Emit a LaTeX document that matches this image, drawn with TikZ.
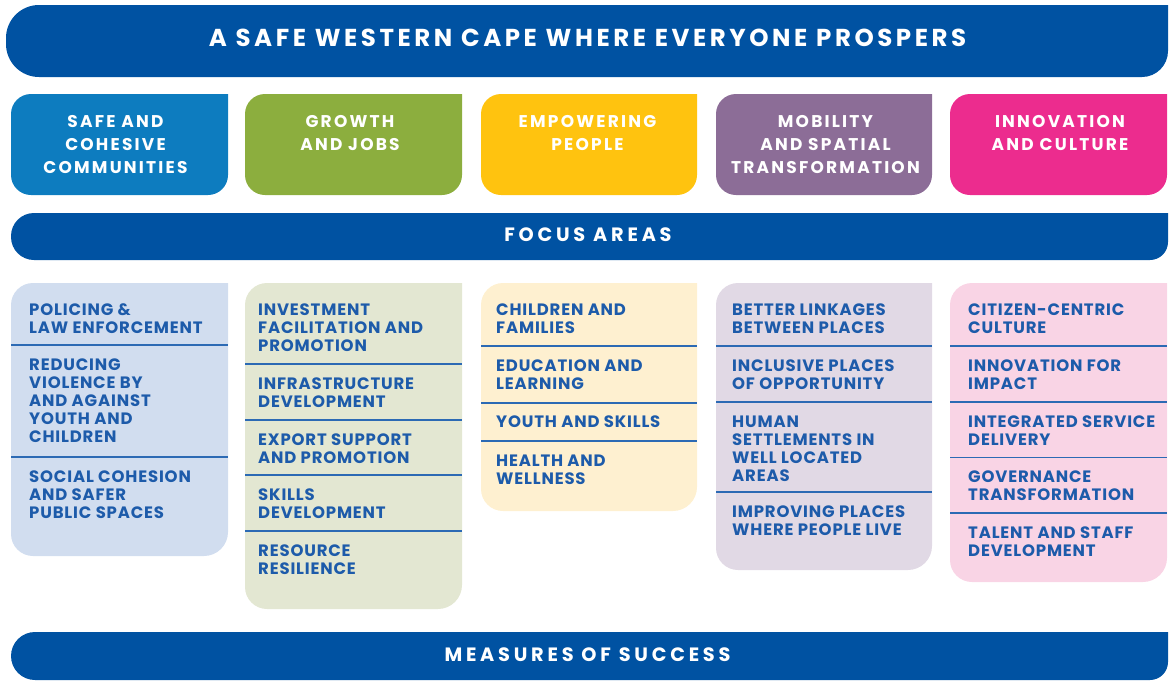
\documentclass[tikz,border=0pt]{standalone}
\usepackage{fontspec}
\setmainfont{Poppins}
\newfontfamily\fcol{Poppins}[LetterSpace=5]
\newfontfamily\fhd{Poppins}[LetterSpace=13]
\newfontfamily\fban{Poppins}[LetterSpace=19.5]
\newfontfamily\ftitle{Poppins}[LetterSpace=14.5]
\definecolor{banblue}{HTML}{0052A2}
\definecolor{c1}{HTML}{0D7CBF}
\definecolor{c2}{HTML}{8CAE3E}
\definecolor{c3}{HTML}{FFC30F}
\definecolor{c4}{HTML}{8C6D97}
\definecolor{c5}{HTML}{EC2C8E}
\definecolor{l1}{HTML}{D1DDEF}
\definecolor{l2}{HTML}{E3E7D2}
\definecolor{l3}{HTML}{FEF0D0}
\definecolor{l4}{HTML}{E1D9E5}
\definecolor{l5}{HTML}{F9D4E5}
\definecolor{txtblue}{HTML}{1D5BAA}
\definecolor{sepblue}{HTML}{2C6AB4}
\newcommand\pshape[7]{\fill[#7] (#3,-#2) -- ({#1+#5},-#2) arc[start angle=90,end angle=180,radius=#5] -- (#1,{-#4+#5}) arc[start angle=180,end angle=270,radius=#5] -- ({#3-#6},-#4) arc[start angle=270,end angle=360,radius=#6] -- cycle;}
\newcommand\sepline[3]{\draw[sepstyle] (#1,-#3) -- (#2,-#3);}
\begin{document}
\begin{tikzpicture}[x=1pt,y=1pt,
  sepstyle/.style={draw=sepblue, line width=1.6pt},
  bantext/.style={anchor=base, inner sep=0, text=white, font=\fban\bfseries\fontsize{19.3}{22}\selectfont},
  titletext/.style={anchor=base, inner sep=0, text=white, font=\ftitle\bfseries\fontsize{24.5}{26}\selectfont},
  hdtext/.style={anchor=base, inner sep=0, text=white, font=\fhd\bfseries\fontsize{17}{23}\selectfont},
  coltext/.style={anchor=base west, inner sep=0, text=txtblue, font=\fcol\bfseries\fontsize{16.5}{18}\selectfont}]
\useasboundingbox (0,0) rectangle (1171,-686);
% banners
\pshape{6}{5}{1168}{77}{33}{26}{banblue}
\pshape{11}{213}{1168}{260}{23}{18}{banblue}
\pshape{11}{632}{1168}{680}{24}{18}{banblue}
\node[titletext] (title) at (587.5,-46.7) {A SAFE WESTERN CAPE WHERE EVERYONE PROSPERS};
\node[bantext] (focus) at (588,-241.5) {FOCUS AREAS};
\node[bantext] (measures) at (587.5,-661.5) {MEASURES OF SUCCESS};
% header boxes
\pshape{11}{94}{228}{195}{20}{20}{c1}
\pshape{245}{94}{462}{195}{20}{20}{c2}
\pshape{481}{94}{697}{195}{20}{20}{c3}
\pshape{716}{94}{932}{195}{20}{20}{c4}
\pshape{950}{94}{1167}{195}{20}{20}{c5}
\node[hdtext] (h1) at (115.5,-127.5) {\parbox[t]{210pt}{\centering SAFE AND\\COHESIVE\\COMMUNITIES}};
\node[hdtext] (h2) at (350,-127.5) {\parbox[t]{210pt}{\centering GROWTH\\AND JOBS}};
\node[hdtext] (h3) at (587.5,-127.5) {\parbox[t]{210pt}{\centering EMPOWERING\\PEOPLE}};
\node[hdtext] (h4) at (825.5,-127.5) {\parbox[t]{210pt}{\centering MOBILITY\\AND SPATIAL\\TRANSFORMATION}};
\node[hdtext] (h5) at (1060,-127.5) {\parbox[t]{210pt}{\centering INNOVATION\\AND CULTURE}};
% columns
\pshape{11}{283}{228}{556}{22}{24}{l1}
\pshape{245}{283}{462}{609}{22}{24}{l2}
\pshape{481}{283}{697}{511}{22}{24}{l3}
\pshape{716}{283}{932}{570}{22}{24}{l4}
\pshape{950}{283}{1167}{582}{22}{24}{l5}
% column 1
\sepline{11}{228}{345}\sepline{11}{228}{457}
\node[coltext] (a1) at (29,-315) {\parbox[t]{200pt}{\raggedright POLICING \&\\LAW ENFORCEMENT}};
\node[coltext] (a2) at (29,-370) {\parbox[t]{200pt}{\raggedright REDUCING\\VIOLENCE BY\\AND AGAINST\\YOUTH AND\\CHILDREN}};
\node[coltext] (a3) at (29,-482) {\parbox[t]{200pt}{\raggedright SOCIAL COHESION\\AND SAFER\\PUBLIC SPACES}};
% column 2
\sepline{245}{462}{364}\sepline{245}{462}{420}\sepline{245}{462}{475}\sepline{245}{462}{531}
\node[coltext] (b1) at (258,-315) {\parbox[t]{200pt}{\raggedright INVESTMENT\\FACILITATION AND\\PROMOTION}};
\node[coltext] (b2) at (258,-389.5) {\parbox[t]{200pt}{\raggedright INFRASTRUCTURE\\DEVELOPMENT}};
\node[coltext] (b3) at (258,-445.5) {\parbox[t]{200pt}{\raggedright EXPORT SUPPORT\\AND PROMOTION}};
\node[coltext] (b4) at (258,-500.5) {\parbox[t]{200pt}{\raggedright SKILLS\\DEVELOPMENT}};
\node[coltext] (b5) at (258,-556.5) {\parbox[t]{200pt}{\raggedright RESOURCE\\RESILIENCE}};
% column 3
\sepline{481}{697}{346}\sepline{481}{697}{403}\sepline{481}{697}{441}
\node[coltext] (c1n) at (496,-315) {\parbox[t]{200pt}{\raggedright CHILDREN AND\\FAMILIES}};
\node[coltext] (c2n) at (496,-371) {\parbox[t]{200pt}{\raggedright EDUCATION AND\\LEARNING}};
\node[coltext] (c3n) at (496,-427.5) {\parbox[t]{200pt}{\raggedright YOUTH AND SKILLS}};
\node[coltext] (c4n) at (496,-466) {\parbox[t]{200pt}{\raggedright HEALTH AND\\WELLNESS}};
% column 4
\sepline{716}{932}{346}\sepline{716}{932}{402}\sepline{716}{932}{492}
\node[coltext] (d1) at (732,-315) {\parbox[t]{200pt}{\raggedright BETTER LINKAGES\\BETWEEN PLACES}};
\node[coltext] (d2) at (732,-371) {\parbox[t]{200pt}{\raggedright INCLUSIVE PLACES\\OF OPPORTUNITY}};
\node[coltext] (d3) at (732,-427) {\parbox[t]{200pt}{\raggedright HUMAN\\SETTLEMENTS IN\\WELL LOCATED\\AREAS}};
\node[coltext] (d4) at (732,-517.5) {\parbox[t]{200pt}{\raggedright IMPROVING PLACES\\WHERE PEOPLE LIVE}};
% column 5
\sepline{950}{1167}{346}\sepline{950}{1167}{402}\sepline{950}{1167}{457.5}\sepline{950}{1167}{513}
\node[coltext] (e1) at (968,-315) {\parbox[t]{200pt}{\raggedright CITIZEN-CENTRIC\\CULTURE}};
\node[coltext] (e2) at (968,-371) {\parbox[t]{200pt}{\raggedright INNOVATION FOR\\IMPACT}};
\node[coltext] (e3) at (968,-427) {\parbox[t]{200pt}{\raggedright INTEGRATED SERVICE\\DELIVERY}};
\node[coltext] (e4) at (968,-482.5) {\parbox[t]{200pt}{\raggedright GOVERNANCE\\TRANSFORMATION}};
\node[coltext] (e5) at (968,-538) {\parbox[t]{200pt}{\raggedright TALENT AND STAFF\\DEVELOPMENT}};
\end{tikzpicture}
\end{document}
